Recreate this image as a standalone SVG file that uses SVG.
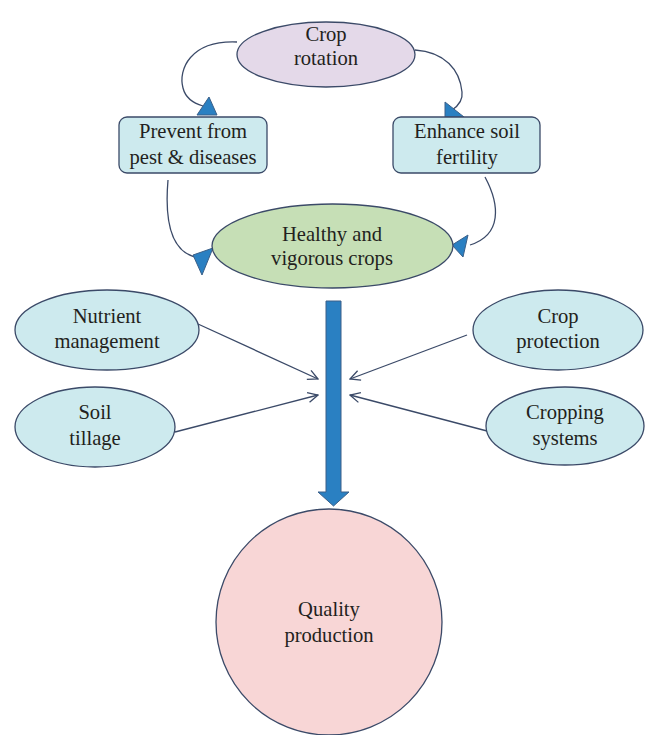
<svg xmlns="http://www.w3.org/2000/svg" width="645" height="735" viewBox="0 0 645 735">
<defs>
<style>
.t{font-family:"Liberation Serif","Times New Roman",serif;font-size:20.6px;fill:#231f20;text-anchor:middle}
.n{stroke:#3b4a68;stroke-width:1.3}
.c{fill:none;stroke:#3b4a68;stroke-width:1.3}
.h{fill:#2a80c2;stroke:#3a5f88;stroke-width:1}
</style>
<marker id="open" viewBox="0 0 12 12" refX="11" refY="6" markerWidth="12" markerHeight="12" markerUnits="userSpaceOnUse" orient="auto">
<path d="M1,1 L11,6 L1,11" fill="none" stroke="#3b4a68" stroke-width="1.3"/>
</marker>
</defs>
<rect width="645" height="735" fill="#fff"/>
<g id="connectors">
<path class="c" d="M237,42 C190,40 178,70 183,88 C186,100 196,104 203,106"/>
<polygon class="h" points="197,115 217,115 209,97"/>
<path class="c" d="M415,50 C445,52 460,70 462,92 C463,100 458,106 452,110"/>
<polygon class="h" points="445,102 445,117 464,117"/>
<path class="c" d="M168,180 C165,215 168,250 195,257"/>
<polygon class="h" points="193,255 202,275 213,248"/>
<path class="c" d="M485,177 C500,205 502,235 470,245"/>
<polygon class="h" points="452,245 468,235 463,257"/>
<line class="c" x1="198" y1="324" x2="318" y2="379" marker-end="url(#open)"/>
<line class="c" x1="175" y1="432" x2="318" y2="395" marker-end="url(#open)"/>
<line class="c" x1="467" y1="335" x2="350" y2="379" marker-end="url(#open)"/>
<line class="c" x1="487" y1="431" x2="350" y2="395" marker-end="url(#open)"/>
<path class="h" d="M326,301 L341,301 L341,492 L349,492 L333.5,506 L318,492 L326,492 Z"/>
</g>
<g id="crop-rotation">
<ellipse class="n" cx="326" cy="54.5" rx="89" ry="32.5" fill="#e4d9e9"/>
<text class="t" x="326" y="41">Crop</text>
<text class="t" x="326" y="65">rotation</text>
</g>
<g id="prevent">
<rect class="n" x="119" y="117" width="148" height="56" rx="8" fill="#cdeaee"/>
<text class="t" x="193" y="138">Prevent from</text>
<text class="t" x="193" y="164">pest &amp; diseases</text>
</g>
<g id="enhance">
<rect class="n" x="393" y="117" width="147" height="56" rx="8" fill="#cdeaee"/>
<text class="t" x="467" y="138">Enhance soil</text>
<text class="t" x="467" y="164">fertility</text>
</g>
<g id="healthy">
<ellipse class="n" cx="332.5" cy="246" rx="120.5" ry="42" fill="#c6dfb6"/>
<text class="t" x="332" y="241">Healthy and</text>
<text class="t" x="332" y="265">vigorous crops</text>
</g>
<g id="nutrient">
<ellipse class="n" cx="107" cy="330" rx="92" ry="40" fill="#cdeaee"/>
<text class="t" x="107" y="323">Nutrient</text>
<text class="t" x="107" y="348">management</text>
</g>
<g id="soil">
<ellipse class="n" cx="95" cy="427" rx="80" ry="40" fill="#cdeaee"/>
<text class="t" x="95" y="419">Soil</text>
<text class="t" x="95" y="445">tillage</text>
</g>
<g id="crop-protection">
<ellipse class="n" cx="558" cy="330" rx="85" ry="40" fill="#cdeaee"/>
<text class="t" x="558" y="323">Crop</text>
<text class="t" x="558" y="348">protection</text>
</g>
<g id="cropping">
<ellipse class="n" cx="565" cy="426" rx="79" ry="39" fill="#cdeaee"/>
<text class="t" x="565" y="419">Cropping</text>
<text class="t" x="565" y="445">systems</text>
</g>
<g id="quality">
<circle class="n" cx="329" cy="622" r="113" fill="#f8d6d6"/>
<text class="t" x="329" y="616">Quality</text>
<text class="t" x="329" y="642">production</text>
</g>
</svg>
